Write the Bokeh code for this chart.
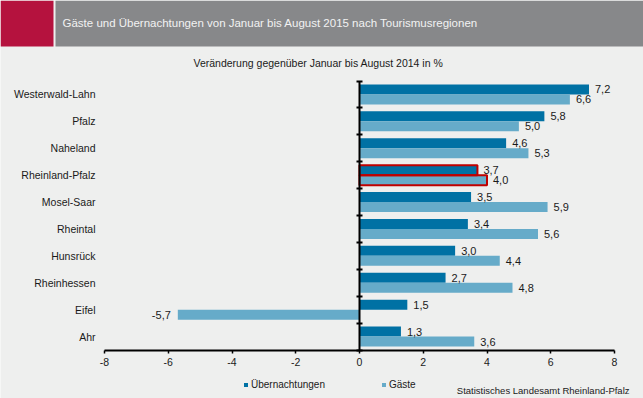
from bokeh.plotting import figure
from bokeh.models import (LinearAxis, FixedTicker, Range1d, BoxAnnotation, Label,
                          Legend, LegendItem, ColumnDataSource)
from bokeh.embed import file_html
from bokeh.resources import INLINE
from bokeh.core.properties import value

# ---------------- data ----------------
regions = ["Westerwald-Lahn", "Pfalz", "Naheland", "Rheinland-Pfalz", "Mosel-Saar",
           "Rheintal", "Hunsrück", "Rheinhessen", "Eifel", "Ahr"]
uebernachtungen = [7.2, 5.8, 4.6, 3.7, 3.5, 3.4, 3.0, 2.7, 1.5, 1.3]
gaeste = [6.6, 5.0, 5.3, 4.0, 5.9, 5.6, 4.4, 4.8, -5.7, 3.6]
highlight = "Rheinland-Pfalz"
x_ticks = [-8, -6, -4, -2, 0, 2, 4, 6, 8]
x_tick_labels = ["-8", "-6", "-4", "-2", "0", "2", "4", "6", "8"]
series_names = ["Übernachtungen", "Gäste"]
title_text = "Gäste und Übernachtungen von Januar bis August 2015 nach Tourismusregionen"
subtitle_text = "Veränderung gegenüber Januar bis August 2014 in %"
source_text = "Statistisches Landesamt Rheinland-Pfalz"

# ---------------- style / layout ----------------
BG = "#eeefee"
DARK = "#0071a4"
LIGHT = "#66abc9"
RED = "#c00000"
HEAD_GRAY = "#87888a"
CRIMSON = "#b5123e"
TXT = "#1a1a1a"
FONT = "Liberation Sans"

W, H = 643, 398
# pixel placement of the value axis and category band
X_ZERO_PX, PX_PER_X = 359.0, 31.875
Y_BASE_PX, PX_PER_Y = 349.5, 26.9

n = len(regions)
centers = [n - 0.5 - i for i in range(n)]
off = 0.186
bh = 0.372

def fmt(v):
    return f"{v:.1f}".replace(".", ",")

src_u = ColumnDataSource(dict(y=[c + off for c in centers], x=uebernachtungen,
                              lab=[fmt(v) for v in uebernachtungen]))
src_g = ColumnDataSource(dict(y=[c - off for c in centers], x=gaeste,
                              lab=[fmt(v) for v in gaeste]))

x_range = Range1d(-X_ZERO_PX / PX_PER_X, (W - X_ZERO_PX) / PX_PER_X)
y_range = Range1d((Y_BASE_PX - H) / PX_PER_Y, Y_BASE_PX / PX_PER_Y)

p = figure(width=W, height=H, x_range=x_range, y_range=y_range,
           output_backend="svg", toolbar_location=None, min_border=0)
p.background_fill_color = BG
p.border_fill_color = BG
p.outline_line_color = None
p.grid.visible = False

r_u = p.hbar(y="y", right="x", left=0, height=bh, source=src_u,
             fill_color=DARK, line_color=None)
r_g = p.hbar(y="y", right="x", left=0, height=bh, source=src_g,
             fill_color=LIGHT, line_color=None)

# highlighted region outline
hi = regions.index(highlight)
src_hi = ColumnDataSource(dict(y=[centers[hi] + off, centers[hi] - off],
                               x=[uebernachtungen[hi], gaeste[hi]]))
p.hbar(y="y", right="x", left=0, height=bh, source=src_hi,
       fill_color=None, line_color=RED, line_width=2)

# value labels
def add_labels(vals, ys, labs):
    pos = [i for i, v in enumerate(vals) if v >= 0]
    neg = [i for i, v in enumerate(vals) if v < 0]
    if pos:
        p.text(x=[vals[i] for i in pos], y=[ys[i] for i in pos], text=[labs[i] for i in pos],
               x_offset=6, y_offset=0, text_align="left", text_baseline="middle",
               text_font=value(FONT), text_font_size="11px", text_color=TXT)
    if neg:
        p.text(x=[vals[i] for i in neg], y=[ys[i] for i in neg], text=[labs[i] for i in neg],
               x_offset=-7, y_offset=0, text_align="right", text_baseline="middle",
               text_font=value(FONT), text_font_size="11px", text_color=TXT)

add_labels(uebernachtungen, src_u.data["y"], src_u.data["lab"])
add_labels(gaeste, src_g.data["y"], src_g.data["lab"])

# bottom x axis, fixed at y = 0
xa = p.xaxis[0]
xa.fixed_location = 0
xa.bounds = (x_ticks[0], x_ticks[-1])
xa.ticker = FixedTicker(ticks=x_ticks)
xa.major_label_overrides = {t: s for t, s in zip(x_ticks, x_tick_labels)}
xa.minor_tick_line_color = None
xa.axis_line_color = "black"
xa.axis_line_width = 2
xa.major_tick_line_color = "black"
xa.major_tick_line_width = 1.5
xa.major_tick_in = 0
xa.major_tick_out = 3
xa.major_label_standoff = 5
xa.major_label_text_font = FONT
xa.major_label_text_font_size = "10.5px"
xa.major_label_text_color = TXT

# left category axis, fixed at the left end of the value scale
ya = p.yaxis[0]
ya.fixed_location = x_ticks[0]
ya.ticker = FixedTicker(ticks=centers)
ya.major_label_overrides = {c: r for c, r in zip(centers, regions)}
ya.axis_line_color = None
ya.major_tick_line_color = None
ya.minor_tick_line_color = None
ya.major_tick_in = 0
ya.major_tick_out = 0
ya.major_label_standoff = 9
ya.major_label_text_font = FONT
ya.major_label_text_font_size = "10.5px"
ya.major_label_text_color = TXT

# zero axis with ticks at the category boundaries
za = LinearAxis(fixed_location=0, bounds=(0, n),
                ticker=FixedTicker(ticks=list(range(n + 1))))
za.axis_line_color = "black"
za.axis_line_width = 2
za.major_tick_line_color = "black"
za.major_tick_line_width = 2
za.major_tick_in = 3
za.major_tick_out = 3
za.minor_tick_line_color = None
za.major_label_text_color = None
za.major_label_text_font_size = "0px"
p.add_layout(za, "left")

# header and texts (screen px, measured from the bottom-left)
def sy(y):
    return H - y

def box(l, r, t, b, color):
    return BoxAnnotation(left=l, right=r, top=sy(t), bottom=sy(b),
                         left_units="screen", right_units="screen",
                         top_units="screen", bottom_units="screen",
                         fill_color=color, fill_alpha=1, line_color=None, level="underlay")

p.add_layout(box(0, 53, 0, 46, CRIMSON))
p.add_layout(box(55, W, 0, 46, HEAD_GRAY))
p.add_layout(Label(x=62, y=sy(22), x_units="screen", y_units="screen",
                   text=title_text, text_font=FONT, text_font_size="11.5px",
                   text_color="#f2f2f2", text_baseline="middle", text_align="left"))
p.add_layout(Label(x=193, y=sy(62.5), x_units="screen", y_units="screen",
                   text=subtitle_text, text_font=FONT, text_font_size="10.5px",
                   text_color=TXT, text_baseline="middle", text_align="left"))
p.add_layout(Label(x=629, y=sy(390), x_units="screen", y_units="screen",
                   text=source_text, text_font=FONT, text_font_size="9.5px",
                   text_color=TXT, text_baseline="middle", text_align="right"))

legend = Legend(items=[LegendItem(label=series_names[0], renderers=[r_u]),
                       LegendItem(label=series_names[1], renderers=[r_g])],
                location=(243, sy(384) - 6), orientation="horizontal",
                padding=0, margin=0, spacing=56, label_standoff=3,
                glyph_width=5, glyph_height=5, label_height=12, label_width=10,
                label_text_font=FONT, label_text_font_size="10px",
                label_text_color=TXT, label_text_baseline="middle",
                border_line_color=None, background_fill_alpha=0)
p.add_layout(legend, "center")

open("out.html", "w").write(file_html(p, INLINE))
